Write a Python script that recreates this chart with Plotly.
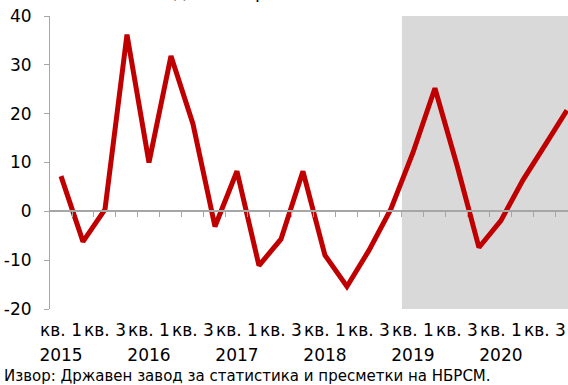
import plotly.graph_objects as go

quarters = ["кв. 1", "кв. 2", "кв. 3", "кв. 4"]
years = ["2015", "2016", "2017", "2018", "2019", "2020"]
values = [7.2, -6.2, 0.4, 36.2, 10.0, 31.8, 17.9, -3.1,
          8.2, -11.1, -5.7, 8.2, -9.0, -15.4, -8.0, 0.5,
          12.0, 25.2, 9.5, -7.4, -1.9, 6.4, 13.5, 20.7]
shade_from = "2019"
y_ticks = [-20, -10, 0, 10, 20, 30, 40]
y_tick_labels = ["-20", "-10", "0", "10", "20", "30", "40"]
title_text = "(годишни промени, во %)"
source_text = "Извор: Државен завод за статистика и пресметки на НБРСМ."

n = len(values)
idx = list(range(n))
q_pos = idx[::2]
q_txt = [quarters[i % 4] for i in q_pos]
y_pos = idx[::4]
y_txt = [years[i // 4] for i in y_pos]
shade_start = years.index(shade_from) * 4 - 0.5

FONT = "DejaVu Sans"
fig = go.Figure()
fig.add_trace(go.Scatter(x=idx, y=values, mode="lines",
                         line=dict(color="#C00000", width=5),
                         showlegend=False, hoverinfo="skip"))
# invisible traces to host the helper axes
fig.add_trace(go.Scatter(x=[idx[0], idx[-1]], y=[0, 0], xaxis="x2", mode="lines",
                         line=dict(width=0), showlegend=False, hoverinfo="skip"))
fig.add_trace(go.Scatter(x=[idx[0], idx[-1]], y=[0, 0], xaxis="x3", mode="lines",
                         line=dict(width=0), showlegend=False, hoverinfo="skip"))

fig.add_shape(type="rect", xref="x", yref="y", x0=shade_start, x1=n - 0.5,
              y0=y_ticks[0], y1=y_ticks[-1], fillcolor="#D9D9D9",
              line=dict(width=0), layer="below")

xr = [-0.5, n - 0.95]
fig.update_layout(
    width=568, height=385,
    margin=dict(l=50, r=0, t=16, b=76, autoexpand=False),
    paper_bgcolor="white", plot_bgcolor="white",
    font=dict(family=FONT, size=17, color="black"),
    xaxis=dict(range=xr, tickmode="array", tickvals=q_pos, ticktext=q_txt,
               showline=False, ticks="", showgrid=False, zeroline=False,
               automargin=False, ticklabelstandoff=9,
               tickfont=dict(family=FONT, size=17)),
    xaxis2=dict(range=xr, overlaying="x", anchor="free", position=20 / 60,
                tickmode="array", tickvals=[i + 0.5 for i in idx],
                showticklabels=False, ticks="outside", ticklen=5,
                tickcolor="#A6A6A6", showline=True, linecolor="#A6A6A6",
                linewidth=1.5, showgrid=False, zeroline=False, automargin=False),
    xaxis3=dict(range=xr, overlaying="x", anchor="y", side="bottom",
                tickmode="array", tickvals=y_pos, ticktext=y_txt,
                showline=False, ticks="", showgrid=False, zeroline=False,
                automargin=False, ticklabelstandoff=34,
                tickfont=dict(family=FONT, size=17)),
    yaxis=dict(range=[y_ticks[0], y_ticks[-1]], tickmode="array",
               tickvals=y_ticks, ticktext=y_tick_labels,
               showline=True, linecolor="#A6A6A6", linewidth=1,
               ticks="outside", ticklen=5, tickcolor="#A6A6A6",
               showgrid=False, zeroline=False, automargin=False,
               ticklabelstandoff=9,
               tickfont=dict(family=FONT, size=17)),
    annotations=[
        dict(text=title_text, xref="paper", yref="paper", x=0.42, y=1 + 12 / 293,
             xanchor="center", yanchor="bottom", showarrow=False,
             font=dict(family=FONT, size=18, color="black")),
        dict(text=source_text, xref="paper", yref="paper", x=-48 / 518, y=-56 / 293,
             xanchor="left", yanchor="top", showarrow=False,
             font=dict(family=FONT, size=15, color="black")),
    ],
)
fig.write_html("out.html", config={"displayModeBar": False},
               post_script="document.body.style.margin='0';document.body.style.overflow='hidden';")
